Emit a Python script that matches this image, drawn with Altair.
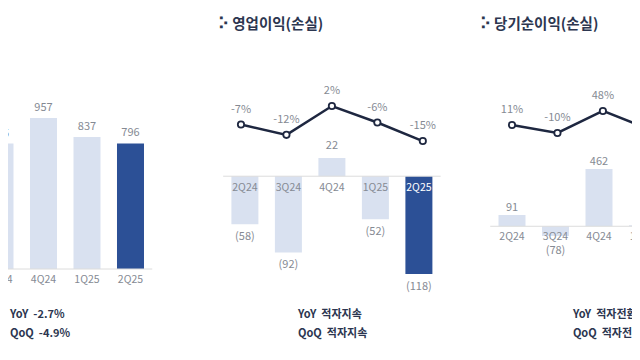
import altair as alt
import pandas as pd

# ---- data ----
quarters = ["2Q24", "3Q24", "4Q24", "1Q25", "2Q25"]
revenue = [818, 795, 957, 837, 796]            # 매출액 (left panel, partly cropped)
op_income = [-58, -92, 22, -52, -118]          # 영업이익(손실)
op_margin = [-7, -12, 2, -6, -15]              # 영업이익률 %
net_income = [91, -78, 462, 8, -125]           # 당기순이익(손실)
net_margin = [11, -10, 48, 1, -16]             # 당기순이익률 %
titles = ["매출액", "영업이익(손실)", "당기순이익(손실)"]
yoy = ["-2.7%", "적자지속", "적자전환"]
qoq = ["-4.9%", "적자지속", "적자전환"]

# ---- layout (slot units on a shared x scale) ----
FONT = "Noto Sans CJK KR"
LIGHT = "#d9e1f0"
DARK = "#2c5096"
LINE = "#1e2740"
GRAY = "#858a93"
NAVY = "#2c3650"
base = {"rev": 0.0, "op": 6.63, "net": 12.77}
title_off = {"rev": -3.0, "op": -0.62, "net": -0.74}
yoy_off = {"rev": 1.23, "op": 1.22, "net": 1.40}
line_shift = {"rev": 0.0, "op": 0.0, "net": 0.09}
LINE_SPREAD = 1.045
W, H = 624, 340
XDOM = [1.184, 1.184 + W / 43.5]


def fmt(v):
    return f"({abs(v)})" if v < 0 else f"{v}"


def frame(panel, values, margins=None):
    rows = []
    for i, q in enumerate(quarters):
        r = {"q": q, "x": base[panel] + i, "v": values[i], "lab": fmt(values[i])}
        if margins is not None:
            r["m"] = margins[i]
            r["mlab"] = f"{margins[i]}%"
            r["lx"] = base[panel] + 2 + line_shift[panel] + (i - 2) * LINE_SPREAD
        rows.append(r)
    return pd.DataFrame(rows)


XS = alt.Scale(domain=XDOM, nice=False, zero=False, padding=0)
X = alt.X("x:Q", scale=XS, axis=None)
LX = alt.X("lx:Q", scale=XS, axis=None)


def bar_panel(df, panel, dom, dy_pos, dy_neg, dy_axis, white_last):
    ysc = alt.Scale(domain=dom, nice=False, zero=False, padding=0)
    Y = alt.Y("v:Q", scale=ysc, axis=None)
    c = alt.Chart(df)
    bars = c.mark_bar(size=27, clip=True).encode(
        x=X, y=Y, y2=alt.datum(0),
        color=alt.condition(alt.datum.q == "2Q25", alt.value(DARK), alt.value(LIGHT)),
    )
    rule_df = pd.DataFrame({"x": [base[panel] - 0.5], "x2": [base[panel] + 4.5], "v": [0]})
    rule = alt.Chart(rule_df).mark_rule(color="#dcdcdc", strokeWidth=1, clip=True).encode(
        x=X, x2="x2:Q", y=Y
    )
    pos = c.transform_filter(alt.datum.v >= 0).mark_text(
        font=FONT, fontSize=11, color=GRAY, dy=dy_pos, baseline="middle", clip=True
    ).encode(x=X, y=Y, text="lab:N")
    neg = c.transform_filter(alt.datum.v < 0).mark_text(
        font=FONT, fontSize=11, color=GRAY, dy=dy_neg, baseline="middle", clip=True
    ).encode(x=X, y=Y, text="lab:N")
    if white_last:
        acol = alt.condition(alt.datum.q == "2Q25", alt.value("#ffffff"), alt.value(GRAY))
    else:
        acol = alt.value(GRAY)
    ax = c.mark_text(font=FONT, fontSize=10.5, dy=dy_axis, baseline="middle", clip=True).encode(
        x=X, y=alt.Y("zero:Q", scale=ysc, axis=None), text="q:N", color=acol
    ).transform_calculate(zero="0")
    return alt.layer(bars, rule, pos, neg, ax)


def line_panel(df, dom):
    ysc = alt.Scale(domain=dom, nice=False, zero=False, padding=0)
    Y = alt.Y("m:Q", scale=ysc, axis=None)
    c = alt.Chart(df)
    line = c.mark_line(color=LINE, strokeWidth=2.5, clip=True).encode(x=LX, y=Y)
    pts = c.mark_point(filled=True, fill="white", stroke=LINE, strokeWidth=1.8,
                       size=40, opacity=1, clip=True).encode(x=LX, y=Y)
    txt = c.mark_text(font=FONT, fontSize=11, color=GRAY, dy=-15, baseline="middle",
                      clip=True).encode(x=LX, y=Y, text="mlab:N")
    return alt.layer(line, pts, txt)


rev_df = frame("rev", revenue)
op_df = frame("op", op_income, op_margin)
net_df = frame("net", net_income, net_margin)

left = bar_panel(rev_df, "rev", [-500.6, 1654], -10, 13, 11, False)
mid = bar_panel(op_df, "op", [-207.3, 203], -12, 13, 12, True)
right = bar_panel(net_df, "net", [-981.5, 1760], -7, 15, 11, False)
mid_line = line_panel(op_df, [-115.5, 49.6])
right_line = line_panel(net_df, [-575.8, 318.9])

panels = ["rev", "op", "net"]
ann_title = pd.DataFrame({
    "x": [base[p] + title_off[p] for p in panels],
    "t": ["\u2815 " + t for t in titles],
})
ann_yoy = pd.DataFrame({
    "x": [base[p] + yoy_off[p] for p in panels],
    "t": ["YoY\u00a0\u00a0" + s for s in yoy],
})
ann_qoq = pd.DataFrame({
    "x": [base[p] + yoy_off[p] for p in panels],
    "t": ["QoQ\u00a0\u00a0" + s for s in qoq],
})
t_title = alt.Chart(ann_title).mark_text(
    font=FONT, fontSize=14.5, fontWeight="bold", color=NAVY, align="left",
    baseline="middle", clip=True
).encode(x=X, y=alt.value(17), text="t:N")
t_yoy = alt.Chart(ann_yoy).mark_text(
    font=FONT, fontSize=11, fontWeight="bold", color=NAVY, align="left",
    baseline="middle", clip=True
).encode(x=X, y=alt.value(307), text="t:N")
t_qoq = alt.Chart(ann_qoq).mark_text(
    font=FONT, fontSize=11, fontWeight="bold", color=NAVY, align="left",
    baseline="middle", clip=True
).encode(x=X, y=alt.value(326), text="t:N")

chart = alt.layer(left, mid, right, mid_line, right_line, t_title, t_yoy, t_qoq).resolve_scale(
    y="independent"
).properties(
    width=W, height=H, padding=0,
    autosize=alt.AutoSizeParams(type="none"),
    background="white",
).configure_view(stroke=None)

chart.save("out.html", embed_options={"renderer": "svg", "actions": False})
